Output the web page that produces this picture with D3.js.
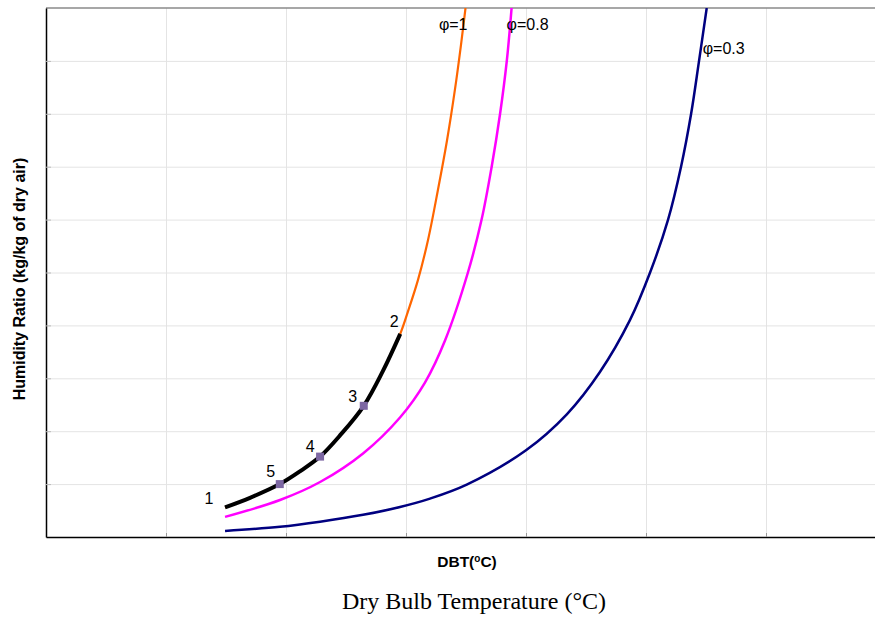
<!DOCTYPE html>
<html>
<head>
<meta charset="utf-8">
<script src="https://cdn.jsdelivr.net/npm/d3@7"></script>
<style>
  body { margin: 0; background: #fff; }
  text { font-family: "Liberation Sans", Arial, sans-serif; }
</style>
</head>
<body>
<div id="chart"></div>
<script>
// Saturation curves (DBT in degC, humidity ratio in kg/kg)
const dbtSat100 = [7.46, 8.5, 9.74, 10.58, 11.42, 12.25, 13.24, 14.04, 14.76, 15.08, 15.5, 15.92, 16.33, 16.71, 17.04, 17.29, 17.48];
const wSat100   = [0.0028, 0.0037, 0.0050, 0.0062, 0.0076, 0.0096, 0.0124, 0.0157, 0.0192, 0.0213, 0.0243, 0.0281, 0.0328, 0.0375, 0.0423, 0.0465, 0.0500];

const dbtSat80 = [7.46, 9.75, 11.42, 13.21, 14.75, 15.79, 16.63, 17.58, 18.15, 18.57, 18.92, 19.2, 19.4];
const wSat80   = [0.0019, 0.0035, 0.0052, 0.0079, 0.0113, 0.0146, 0.0186, 0.0250, 0.0300, 0.0350, 0.0400, 0.0450, 0.0500];

const dbtSat30 = [7.46, 9.75, 11.42, 13.21, 14.75, 16.0, 17.53, 20.0, 21.7, 23.08, 24.33, 25.17, 25.92, 26.46, 26.88, 27.21, 27.53];
const wSat30   = [0.00057, 0.00097, 0.00145, 0.0021, 0.00284, 0.00363, 0.00495, 0.0082, 0.0116, 0.0156, 0.0205, 0.0250, 0.0300, 0.0350, 0.0400, 0.0450, 0.0500];

// Process path 1 -> 2 (black)
const dbtProcess = [7.46, 8.5, 9.74, 10.58, 11.42, 12.25, 13.24, 14.04, 14.76];
const wProcess   = [0.0028, 0.0037, 0.0050, 0.0062, 0.0076, 0.0096, 0.0124, 0.0157, 0.0192];

// Numbered state points
const stateNames = ["1", "2", "3", "4", "5"];
const stateDbt   = [7.46, 14.76, 13.24, 11.42, 9.74];
const stateW     = [0.0028, 0.0192, 0.0124, 0.0076, 0.0050];
const markedStates = ["3", "4", "5"];

// Curve labels
const phiLabels = ["\u03c6=1", "\u03c6=0.8", "\u03c6=0.3"];

// Grid ticks
const xTicks = [5, 10, 15, 20, 25, 30];
const yTicks = [0.005, 0.01, 0.015, 0.02, 0.025, 0.03, 0.035, 0.04, 0.045];

const width = 875,
      height = 618;

const margin = { top: 8, right: 0, bottom: 81, left: 46 };
const plotW = width - margin.left - margin.right;
const plotH = height - margin.top - margin.bottom;

const svg = d3.select("#chart")
    .append("svg")
    .attr("width", width)
    .attr("height", height);

const g = svg.append("g")
    .attr("transform", `translate(${margin.left},${margin.top})`);

const xScale = d3.scaleLinear()
    .domain([0, plotW / 24])
    .range([0, plotW]);

const yScale = d3.scaleLinear()
    .domain([0, 0.05])
    .range([plotH, 0]);

// Gridlines
g.append("g")
    .attr("transform", `translate(0,${plotH})`)
    .call(d3.axisBottom(xScale).tickValues(xTicks).tickSize(-plotH).tickFormat(""))
    .call(a => a.select(".domain").remove())
    .call(a => a.selectAll("line").attr("stroke", "#e4e4e4"));

g.append("g")
    .call(d3.axisLeft(yScale).tickValues(yTicks).tickSize(-plotW).tickFormat(""))
    .call(a => a.select(".domain").remove())
    .call(a => a.selectAll("line").attr("stroke", "#e4e4e4"));

// Top border
g.append("line")
    .attr("x1", 0).attr("x2", plotW)
    .attr("y1", yScale(0.05)).attr("y2", yScale(0.05))
    .attr("stroke", "#8a8a8a")
    .attr("stroke-width", 1.5);

// Axes with short inward ticks
g.append("g")
    .attr("transform", `translate(0,${plotH})`)
    .call(d3.axisBottom(xScale).tickValues(xTicks).tickSizeInner(-4).tickSizeOuter(0).tickFormat(""))
    .call(a => a.select(".domain").attr("stroke", "#000").attr("stroke-width", 1.5))
    .call(a => a.selectAll(".tick line").attr("stroke", "#999"));

g.append("g")
    .call(d3.axisLeft(yScale).tickValues(yTicks).tickSizeInner(-5).tickSizeOuter(0).tickFormat(""))
    .call(a => a.select(".domain").attr("stroke", "#000").attr("stroke-width", 1.5))
    .call(a => a.selectAll(".tick line").attr("stroke", "#bbb"));

// Clip the curves to the plot area
svg.append("clipPath")
    .attr("id", "plot-clip")
    .append("rect")
    .attr("width", plotW)
    .attr("height", plotH);

const curves = g.append("g").attr("clip-path", "url(#plot-clip)");

const line = d3.line()
    .x(d => xScale(d[0]))
    .y(d => yScale(d[1]))
    .curve(d3.curveCatmullRom.alpha(0.5));

const series = [
    { x: dbtSat30, y: wSat30, color: "#000080", width: 2.5 },
    { x: dbtSat80, y: wSat80, color: "#ff00ff", width: 2.5 },
    { x: dbtSat100, y: wSat100, color: "#ff6600", width: 2.2 },
    { x: dbtProcess, y: wProcess, color: "#000000", width: 4 }
];

series.forEach(s => {
    curves.append("path")
        .datum(d3.zip(s.x, s.y))
        .attr("fill", "none")
        .attr("stroke", s.color)
        .attr("stroke-width", s.width)
        .attr("stroke-linejoin", "round")
        .attr("d", line);
});

// Square markers on states 3, 4, 5
const states = stateNames.map((n, i) => ({ name: n, x: stateDbt[i], y: stateW[i] }));

g.selectAll(".marker")
    .data(states.filter(d => markedStates.includes(d.name)))
    .enter().append("rect")
    .attr("x", d => xScale(d.x) - 4)
    .attr("y", d => yScale(d.y) - 4)
    .attr("width", 8)
    .attr("height", 8)
    .attr("fill", "#7d67a3");

// State numbers
const stateOffsets = { "1": [-16, -3], "2": [-6, -7], "3": [-11, -4], "4": [-10, -5], "5": [-9, -7] };

g.selectAll(".state-label")
    .data(states)
    .enter().append("text")
    .attr("x", d => xScale(d.x) + stateOffsets[d.name][0])
    .attr("y", d => yScale(d.y) + stateOffsets[d.name][1])
    .attr("text-anchor", "middle")
    .style("font-size", "16px")
    .text(d => d.name);

// Relative humidity labels, placed next to the top of each curve
const phiTops = [
    [dbtSat100[dbtSat100.length - 1], 0.05, 2, 22, "end"],
    [dbtSat80[dbtSat80.length - 1], 0.05, -5, 22, "start"],
    [dbtSat30[dbtSat30.length - 1], 0.05, -4, 46, "start"]
];

phiLabels.forEach((t, i) => {
    const p = phiTops[i];
    g.append("text")
        .attr("x", xScale(p[0]) + p[2])
        .attr("y", yScale(p[1]) + p[3])
        .attr("text-anchor", p[4])
        .style("font-size", "16px")
        .text(t);
});

// Axis titles
svg.append("text")
    .attr("transform", "translate(25,279) rotate(-90)")
    .attr("text-anchor", "middle")
    .style("font-size", "16px")
    .style("font-weight", "bold")
    .text("Humidity Ratio (kg/kg of dry air)");

const dbt = svg.append("text")
    .attr("x", 467)
    .attr("y", 567)
    .attr("text-anchor", "middle")
    .style("font-size", "15.5px")
    .style("font-weight", "bold");
dbt.append("tspan").text("DBT(");
dbt.append("tspan").text("o").style("font-size", "10px").attr("dy", -5);
dbt.append("tspan").text("C)").attr("dy", 5);

svg.append("text")
    .attr("x", 474)
    .attr("y", 609)
    .attr("text-anchor", "middle")
    .style("font-family", "'Liberation Serif', 'Times New Roman', serif")
    .style("font-size", "24px")
    .text("Dry Bulb Temperature (\u00b0C)");
</script>
</body>
</html>
